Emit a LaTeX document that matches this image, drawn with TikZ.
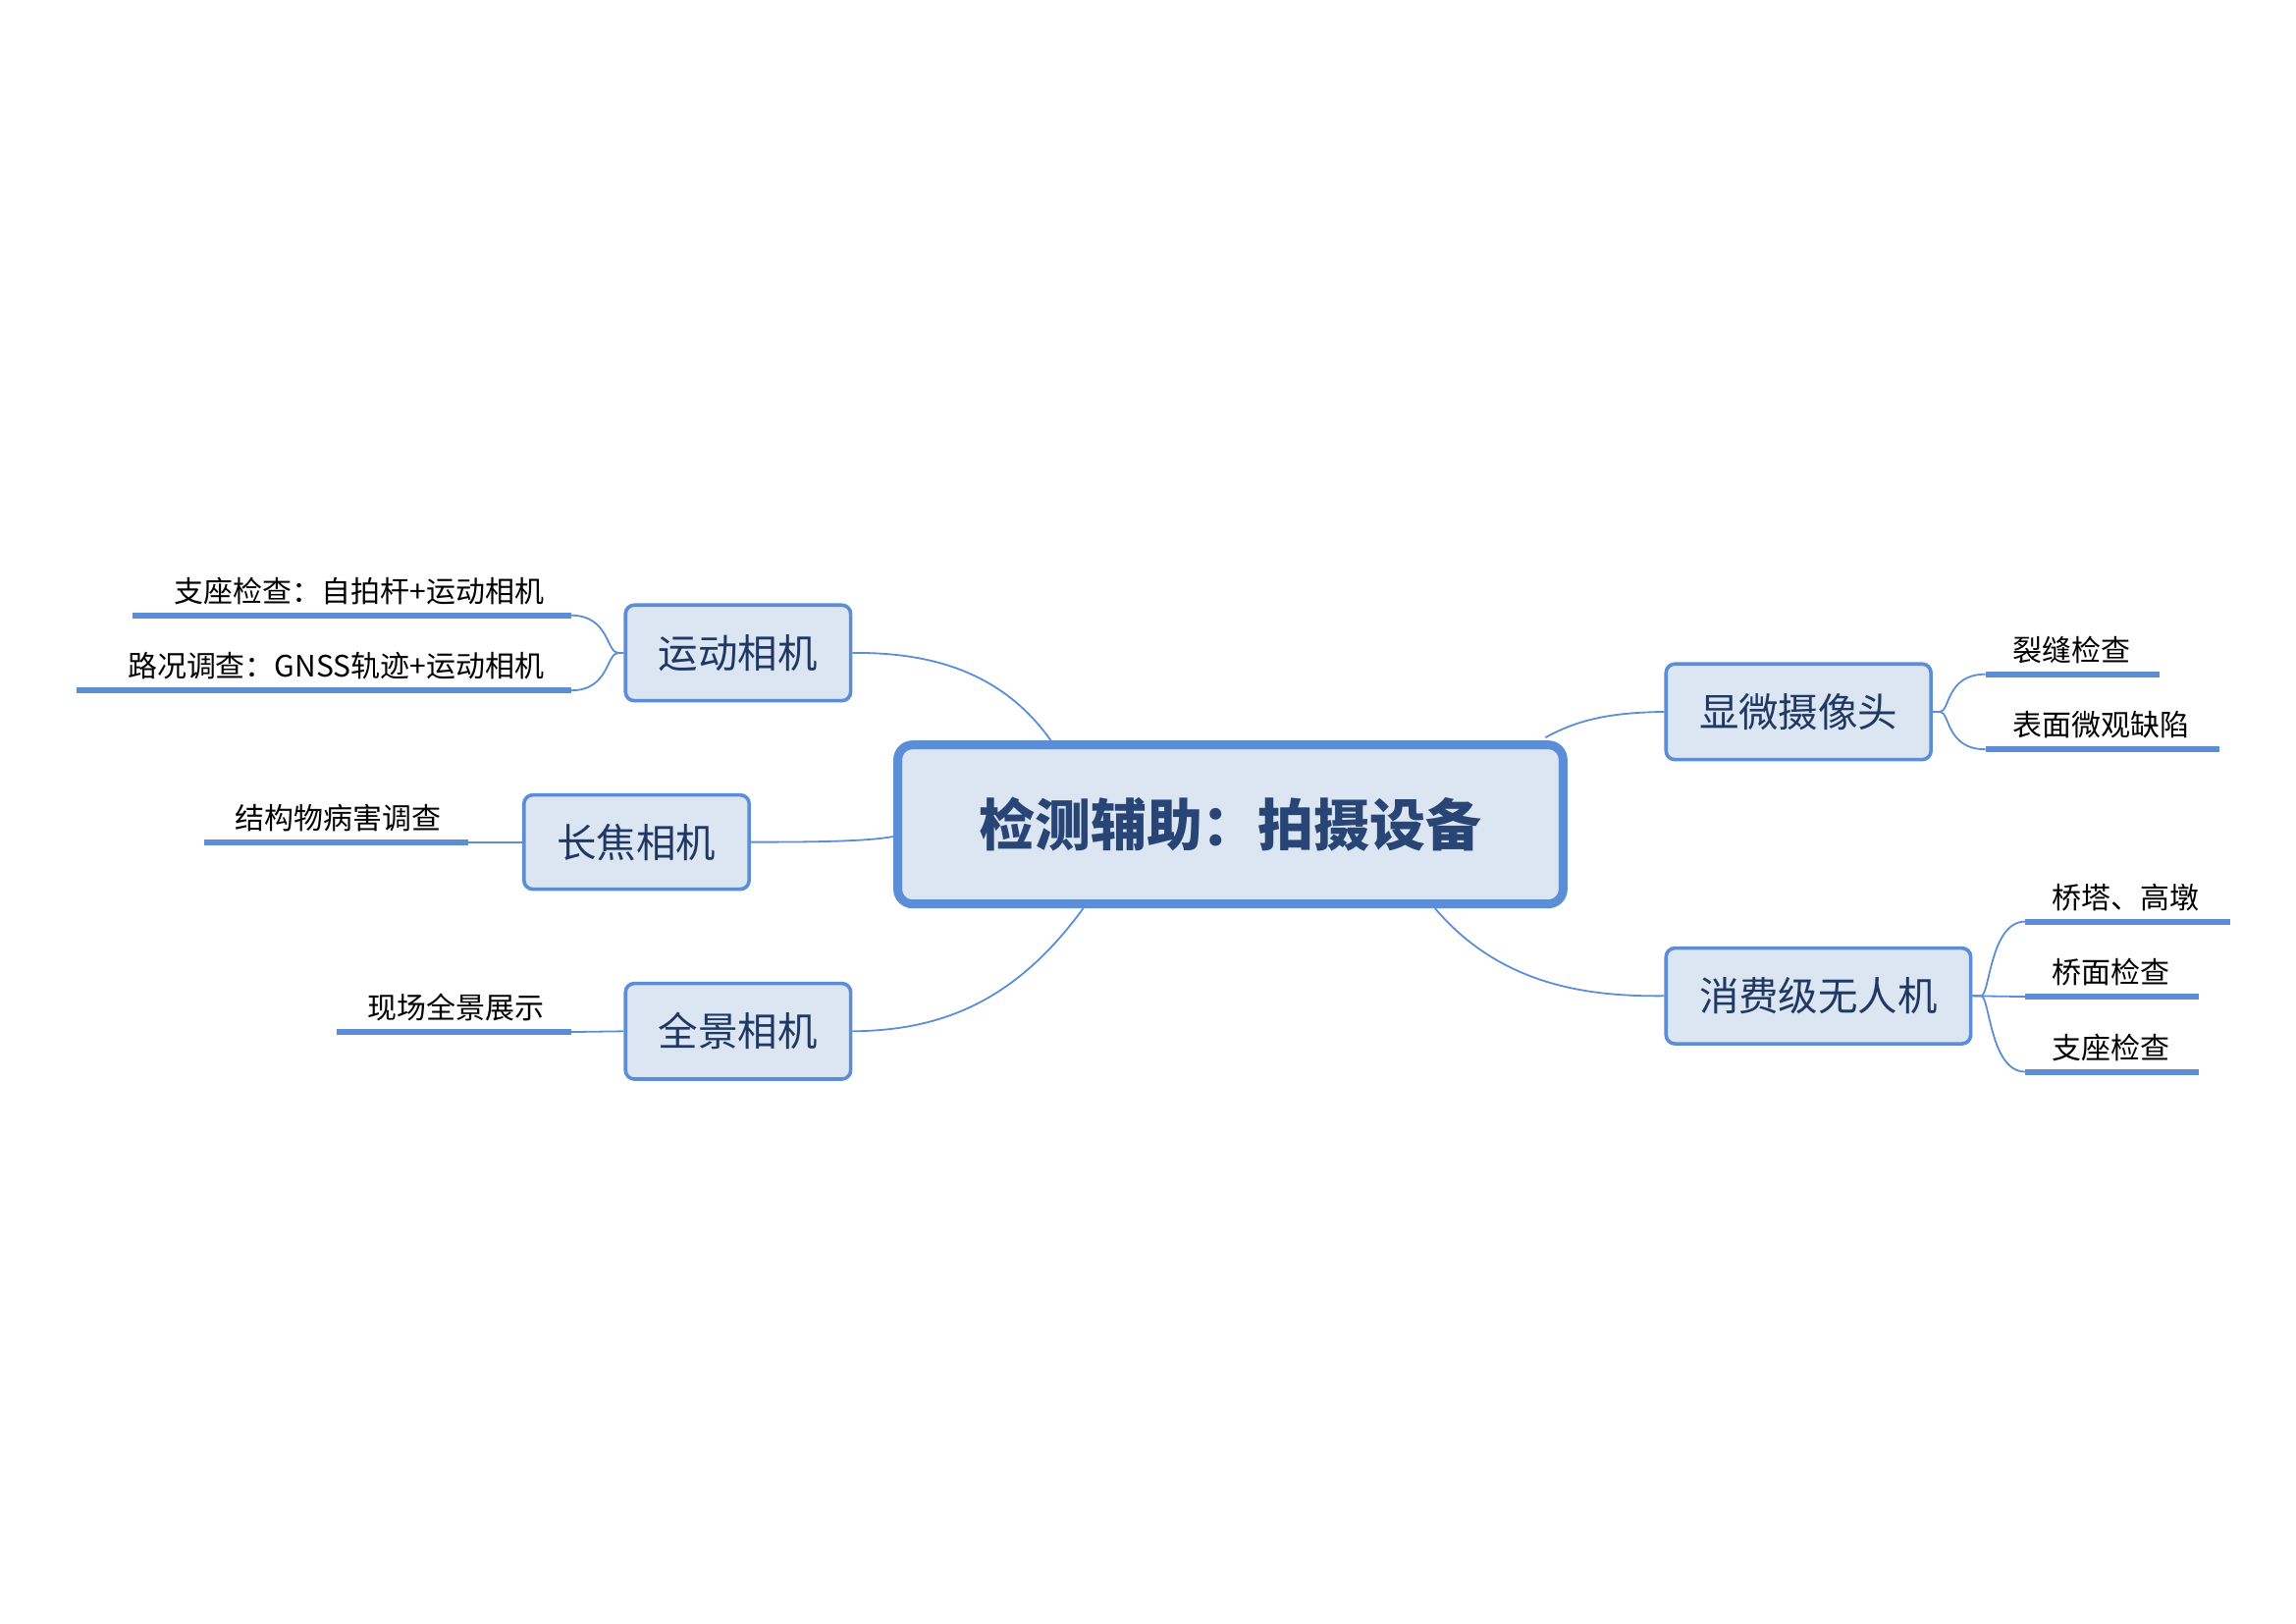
\documentclass[tikz,border=0pt]{standalone}
\usepackage{fontspec}
\setmainfont{Noto Sans CJK SC}
\begin{document}
\begin{tikzpicture}[x=0.5pt,y=-0.5pt,
  mainbox/.style={draw=lb,line width=3pt,fill=fillc,rounded corners=5pt,text=tc,font=\fontsize{19}{22}\selectfont\bfseries},
  subbox/.style={draw=lb,line width=1.2pt,fill=fillc,rounded corners=3pt,text=tc,font=\fontsize{13.5}{16}\selectfont},
  leaftext/.style={font=\fontsize{10}{12}\selectfont,text=black,inner sep=0pt},
  uline/.style={draw=lb,line width=2pt},
  conn/.style={draw=lb,line width=0.6pt}]
\definecolor{lb}{HTML}{5B8ED6}
\definecolor{fillc}{HTML}{DCE6F2}
\definecolor{tc}{HTML}{1F3864}
\useasboundingbox (0,0) rectangle (1560,1103);
% main
\node[mainbox,minimum width=226pt,minimum height=54pt,text=tc!85!lb] (c) at (836,560) {检测辅助：拍摄设备};
\node[subbox,minimum width=76.5pt,minimum height=32.5pt] (yd) at (501.5,443.5) {运动相机};
\node[subbox,minimum width=76.5pt,minimum height=32pt] (cj) at (432.5,572) {长焦相机};
\node[subbox,minimum width=76.5pt,minimum height=32.5pt] (qj) at (501.5,700.5) {全景相机};
\node[subbox,minimum width=90pt,minimum height=32.5pt] (xw) at (1222,483.5) {显微摄像头};
\node[subbox,minimum width=103.5pt,minimum height=32.5pt] (xf) at (1235.5,676.5) {消费级无人机};
% connectors from centre
\coordinate (c1) at (714,503);
\coordinate (c2) at (608,568);
\coordinate (c3) at (736,617);
\coordinate (c4) at (1050,501);
\coordinate (c5) at (975,617);
\draw[conn] (c1) .. controls (680,455) and (630,443) .. (yd.east);
\draw[conn] (c2) .. controls (590,572) and (540,572) .. (cj.east);
\draw[conn] (c3) .. controls (690,680) and (640,700) .. (qj.east);
\draw[conn] (c4) .. controls (1075,487) and (1100,484) .. (xw.west);
\draw[conn] (c5) .. controls (1020,670) and (1080,677) .. (xf.west);
% leaves
\newcommand{\leaf}[7]{% name, x1, x2, y, textx(anchor), anchor, text
  \coordinate (#1a) at (#2,#4); \coordinate (#1b) at (#3,#4);
  \draw[uline] (#1a) -- (#1b);
  \node[leaftext,anchor=#6] (#1t) at (#5,#4-9) {#7};}
\leaf{l1}{90}{388}{418}{370}{base east}{支座检查：自拍杆+运动相机}
\leaf{l2}{52}{388}{469}{370}{base east}{路况调查：GNSS轨迹+运动相机}
\leaf{l3}{139}{318}{572}{300}{base east}{结构物病害调查}
\leaf{l4}{229}{388}{701}{370}{base east}{现场全景展示}
\leaf{r1}{1349}{1467}{458}{1367}{base west}{裂缝检查}
\leaf{r2}{1349}{1508}{509}{1367}{base west}{表面微观缺陷}
\leaf{r3}{1376}{1515}{626}{1394}{base west}{桥塔、高墩}
\leaf{r4}{1376}{1494}{677}{1394}{base west}{桥面检查}
\leaf{r5}{1376}{1494}{728}{1394}{base west}{支座检查}
% leaf connectors
\draw[conn] (yd.west) -- (420,443.5) .. controls (412,443.5) and (414,418) .. (l1b);
\draw[conn] (yd.west) -- (420,443.5) .. controls (412,443.5) and (414,469) .. (l2b);
\draw[conn] (cj.west) -- (l3b);
\draw[conn] (qj.west) -- (l4b);
\draw[conn] (xw.east) -- (1318,483.5) .. controls (1325,483.5) and (1322,458) .. (r1a);
\draw[conn] (xw.east) -- (1318,483.5) .. controls (1325,483.5) and (1322,509) .. (r2a);
\draw[conn] (xf.east) -- (1346,676.5) .. controls (1352,676.5) and (1352,626) .. (r3a);
\draw[conn] (xf.east) -- (r4a);
\draw[conn] (xf.east) -- (1346,676.5) .. controls (1352,676.5) and (1352,728) .. (r5a);
\end{tikzpicture}
\end{document}
